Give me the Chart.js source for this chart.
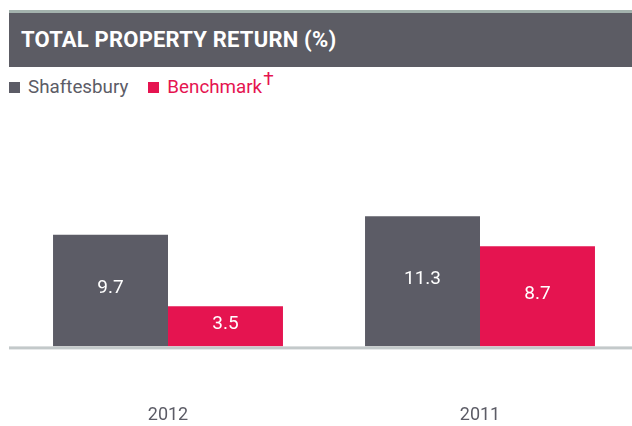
<!DOCTYPE html>
<html>
<head>
<meta charset="utf-8">
<script src="https://cdn.jsdelivr.net/npm/chart.js@4"></script>
<style>
  html, body { margin: 0; padding: 0; background: #fff; overflow: hidden; }
  body { width: 632px; height: 426px; position: relative; font-family: Roboto, sans-serif; }
  .rule { position: absolute; left: 9px; top: 10px; width: 623px; height: 3px; background: #a3b2ad; }
  .header { position: absolute; left: 9px; top: 13px; width: 623px; height: 54px; background: #5c5c64; }
  .header h1 { margin: 0; position: absolute; left: 12px; top: 15px; color: #fff; font-size: 22px; font-weight: bold; letter-spacing: 0.2px; line-height: 24px; }
  .legend { position: absolute; left: 9px; top: 76px; font-size: 18.8px; line-height: 22px; white-space: nowrap; }
  .legend span.item { display: inline-block; margin-right: 20px; }
  .legend i { display: inline-block; width: 11px; height: 11px; margin-right: 8px; vertical-align: 0px; }
  .legend sup { font-size: 19px; vertical-align: 8px; line-height: 0; margin-left: 1px; }
  #wrap { position: absolute; left: 0; top: 100px; width: 636px; height: 376px; }
</style>
</head>
<body>
<div class="rule"></div>
<div class="header"><h1>TOTAL PROPERTY RETURN (%)</h1></div>
<div class="legend" id="legend"></div>
<div id="wrap"><canvas id="chartReturn"></canvas></div>
<script>
const categorias = ['2012', '2011'];
const shaftesbury = [9.7, 11.3];
const benchmark = [3.5, 8.7];
const series = ['Shaftesbury', 'Benchmark'];
const colores = ['#5c5c66', '#e51450'];

// leyenda en HTML
document.getElementById('legend').innerHTML = series.map((s, i) =>
  `<span class="item" style="color:${colores[i]}"><i style="background:${colores[i]}"></i>${s}${i === 1 ? '<sup>†</sup>' : ''}</span>`
).join('');

const etiquetas = {
  id: 'etiquetas',
  afterDatasetsDraw(chart) {
    const ctx = chart.ctx;
    ctx.save();
    ctx.fillStyle = '#ffffff';
    ctx.font = '19px Roboto';
    ctx.textAlign = 'center';
    ctx.textBaseline = 'middle';
    chart.data.datasets.forEach((ds, i) => {
      chart.getDatasetMeta(i).data.forEach((bar, j) => {
        ctx.fillText(ds.data[j].toFixed(1), bar.x, (bar.y + bar.base) / 2 - 2);
      });
    });
    // linea base
    const a = chart.chartArea;
    ctx.fillStyle = '#c3c9ca';
    ctx.fillRect(9, a.bottom, chart.width, 3);
    ctx.restore();
  }
};

new Chart(document.getElementById('chartReturn'), {
  type: 'bar',
  data: {
    labels: categorias,
    datasets: [
      { label: series[0], data: shaftesbury, backgroundColor: colores[0] },
      { label: series[1], data: benchmark, backgroundColor: colores[1] }
    ]
  },
  options: {
    responsive: true,
    maintainAspectRatio: false,
    animation: false,
    layout: { padding: { left: 12, right: 0, top: 83, bottom: 0 } },
    datasets: { bar: { categoryPercentage: 0.737, barPercentage: 1.0, borderWidth: 0 } },
    plugins: { legend: { display: false }, tooltip: { enabled: false } },
    scales: {
      x: {
        grid: { display: false },
        border: { display: false },
        ticks: { color: '#5c5c66', font: { family: 'Roboto', size: 18 }, padding: 50 }
      },
      y: { display: false, min: 0, max: 14.2 }
    }
  },
  plugins: [etiquetas]
});
</script>
</body>
</html>
